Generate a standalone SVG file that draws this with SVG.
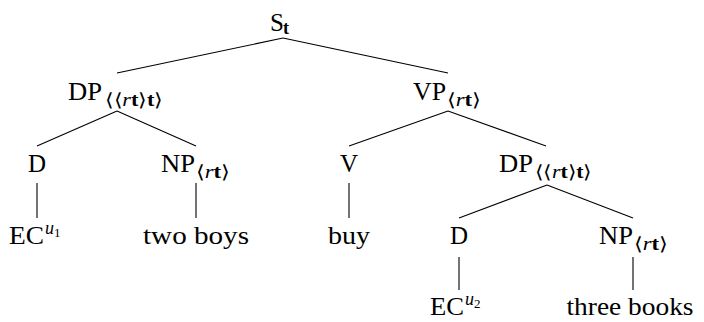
<svg xmlns="http://www.w3.org/2000/svg" width="704" height="322" viewBox="0 0 704 322">
<style>
  .t { font-family: "Liberation Serif", "DejaVu Serif", "DejaVu Sans", serif; font-size: 25px; fill: #000; }
  .sub { font-family: "Liberation Serif", "DejaVu Serif", "DejaVu Sans", serif; font-size: 18px; fill: #000; }
  .br { font-family: "DejaVu Sans", serif; font-weight: 200; }
  .it { font-style: italic; }
  .bf { font-weight: bold; }
  .small { font-size: 13px; }
  .edge { stroke: #000; stroke-width: 1.1; fill: none; stroke-linecap: butt; }
</style>
<rect width="704" height="322" fill="#fff"/>
<g id="connectors">
  <line class="edge" x1="283" y1="38" x2="117" y2="73"/>
  <line class="edge" x1="283" y1="38" x2="448" y2="73"/>
  <line class="edge" x1="117" y1="111" x2="37" y2="146"/>
  <line class="edge" x1="117" y1="111" x2="196" y2="146"/>
  <line class="edge" x1="448" y1="111" x2="349" y2="146"/>
  <line class="edge" x1="448" y1="111" x2="546" y2="146"/>
  <line class="edge" x1="37" y1="183" x2="37" y2="218"/>
  <line class="edge" x1="196" y1="183" x2="196" y2="218"/>
  <line class="edge" x1="349" y1="183" x2="349" y2="218"/>
  <line class="edge" x1="547" y1="185" x2="459" y2="218"/>
  <line class="edge" x1="547" y1="185" x2="633" y2="218"/>
  <line class="edge" x1="459" y1="257" x2="459" y2="290"/>
  <line class="edge" x1="633" y1="257" x2="633" y2="290"/>
</g>
<g id="S">
  <text class="t" x="270" y="31">S</text>
  <text class="sub bf" x="283" y="34">t</text>
</g>
<g id="DP1">
  <text class="t" x="68" y="100" textLength="34" lengthAdjust="spacingAndGlyphs">DP</text>
  <text class="sub" x="105" y="106" textLength="58" lengthAdjust="spacingAndGlyphs"><tspan class="br">⟨⟨</tspan><tspan class="it">r</tspan><tspan class="bf">t</tspan><tspan class="br">⟩</tspan><tspan class="bf">t</tspan><tspan class="br">⟩</tspan></text>
</g>
<g id="VP">
  <text class="t" x="413" y="100" textLength="33" lengthAdjust="spacingAndGlyphs">VP</text>
  <text class="sub" x="447" y="106" textLength="34" lengthAdjust="spacingAndGlyphs"><tspan class="br">⟨</tspan><tspan class="it">r</tspan><tspan class="bf">t</tspan><tspan class="br">⟩</tspan></text>
</g>
<g id="D1">
  <text class="t" x="37" y="172" text-anchor="middle">D</text>
</g>
<g id="NP1">
  <text class="t" x="161" y="172" textLength="34" lengthAdjust="spacingAndGlyphs">NP</text>
  <text class="sub" x="196" y="178" textLength="34" lengthAdjust="spacingAndGlyphs"><tspan class="br">⟨</tspan><tspan class="it">r</tspan><tspan class="bf">t</tspan><tspan class="br">⟩</tspan></text>
</g>
<g id="V">
  <text class="t" x="349" y="172" text-anchor="middle">V</text>
</g>
<g id="DP2">
  <text class="t" x="499" y="172" textLength="34" lengthAdjust="spacingAndGlyphs">DP</text>
  <text class="sub" x="535" y="178" textLength="57" lengthAdjust="spacingAndGlyphs"><tspan class="br">⟨⟨</tspan><tspan class="it">r</tspan><tspan class="bf">t</tspan><tspan class="br">⟩</tspan><tspan class="bf">t</tspan><tspan class="br">⟩</tspan></text>
</g>
<g id="EC1">
  <text class="t" x="9" y="244" textLength="35" lengthAdjust="spacingAndGlyphs">EC</text>
  <text class="sub it" x="45" y="234">u</text>
  <text class="sub small" x="54" y="237">1</text>
</g>
<g id="twoboys">
  <text class="t" x="196" y="244" text-anchor="middle" textLength="106" lengthAdjust="spacingAndGlyphs">two boys</text>
</g>
<g id="buy">
  <text class="t" x="349" y="244" text-anchor="middle" textLength="42" lengthAdjust="spacingAndGlyphs">buy</text>
</g>
<g id="D2">
  <text class="t" x="459" y="244" text-anchor="middle">D</text>
</g>
<g id="NP2">
  <text class="t" x="599" y="244" textLength="34" lengthAdjust="spacingAndGlyphs">NP</text>
  <text class="sub" x="634" y="250" textLength="34" lengthAdjust="spacingAndGlyphs"><tspan class="br">⟨</tspan><tspan class="it">r</tspan><tspan class="bf">t</tspan><tspan class="br">⟩</tspan></text>
</g>
<g id="EC2">
  <text class="t" x="430" y="315" textLength="34" lengthAdjust="spacingAndGlyphs">EC</text>
  <text class="sub it" x="465" y="305">u</text>
  <text class="sub small" x="474" y="308">2</text>
</g>
<g id="threebooks">
  <text class="t" x="630" y="315" text-anchor="middle" textLength="127" lengthAdjust="spacingAndGlyphs">three books</text>
</g>
</svg>
